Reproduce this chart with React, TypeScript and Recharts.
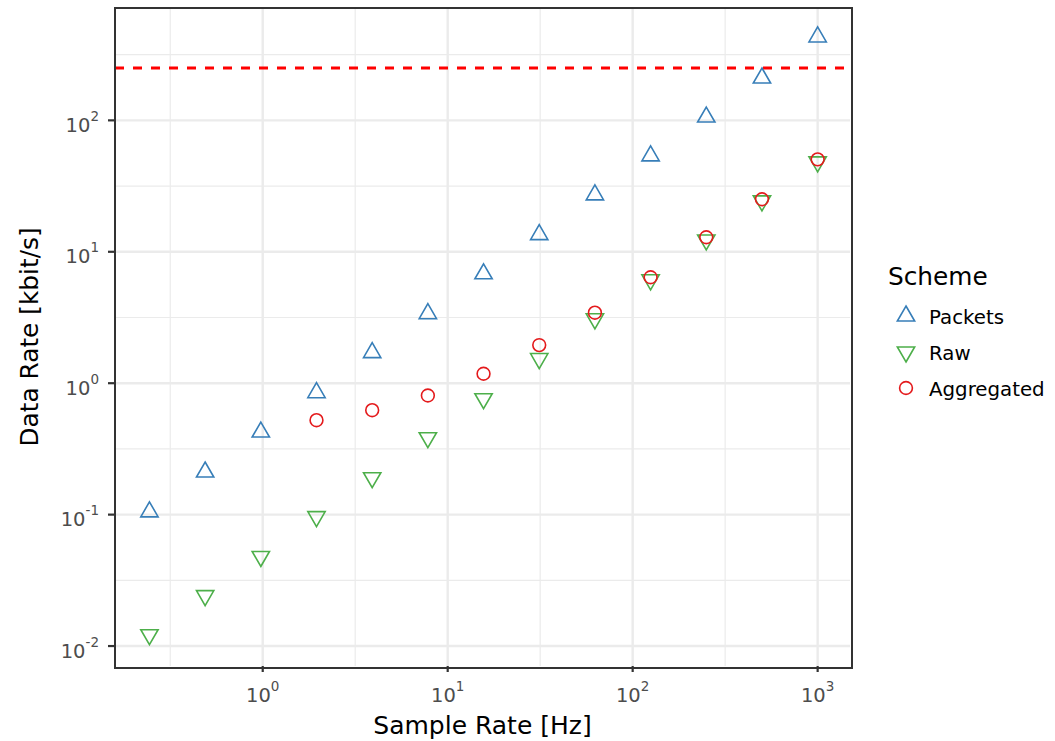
import React from 'react';
import { ScatterChart, Scatter, XAxis, YAxis, CartesianGrid, ReferenceLine } from 'recharts';

// ---- data ----
const sampleRates = [0.244140625, 0.48828125, 0.9765625, 1.953125, 3.90625, 7.8125, 15.625, 31.25, 62.5, 125, 250, 500, 1000];
const packetsRates = [0.105, 0.211, 0.425, 0.847, 1.71, 3.38, 6.8, 13.5, 27.1, 53.7, 106, 210, 431];
const rawRates = [0.0122, 0.0242, 0.048, 0.0966, 0.191, 0.385, 0.762, 1.54, 3.09, 6.12, 12.3, 24.4, 48.3];
const aggregatedSampleRates = [1.953125, 3.90625, 7.8125, 15.625, 31.25, 62.5, 125, 250, 500, 1000];
const aggregatedRates = [0.523, 0.623, 0.806, 1.18, 1.95, 3.44, 6.4, 12.9, 25.1, 50.5];
const limitRate = 250;

const xTicks = [1, 10, 100, 1000];
const yTicks = [0.01, 0.1, 1, 10, 100];
const xMinorGrid = [0.3162, 3.162, 31.62, 316.2];
const yMinorGrid = [0.03162, 0.3162, 3.162, 31.62, 316.2];
const xDomain = [0.159, 1496];
const yDomain = [0.00705, 716];

const seriesNames = ['Packets', 'Raw', 'Aggregated'];
const colors = { Packets: '#377EB8', Raw: '#4DAF4A', Aggregated: '#E41A1C' };

const packetsData = sampleRates.map((x, i) => ({ x, y: packetsRates[i] }));
const rawData = sampleRates.map((x, i) => ({ x, y: rawRates[i] }));
const aggData = aggregatedSampleRates.map((x, i) => ({ x, y: aggregatedRates[i] }));

const FONT = '"DejaVu Sans", Verdana, sans-serif';
const TRI_R = 10;
const CIRC_R = 6.4;
const SW = 1.6;

function triUp(cx: number, cy: number, color: string) {
  const h = (TRI_R * Math.sqrt(3)) / 2;
  const pts = `${cx},${cy - TRI_R} ${cx + h},${cy + TRI_R / 2} ${cx - h},${cy + TRI_R / 2}`;
  return <polygon points={pts} fill="none" stroke={color} strokeWidth={SW} strokeLinejoin="miter" />;
}
function triDown(cx: number, cy: number, color: string) {
  const h = (TRI_R * Math.sqrt(3)) / 2;
  const pts = `${cx},${cy + TRI_R} ${cx + h},${cy - TRI_R / 2} ${cx - h},${cy - TRI_R / 2}`;
  return <polygon points={pts} fill="none" stroke={color} strokeWidth={SW} strokeLinejoin="miter" />;
}
function circ(cx: number, cy: number, color: string) {
  return <circle cx={cx} cy={cy} r={CIRC_R} fill="none" stroke={color} strokeWidth={SW} />;
}

const expOf = (v: number) => Math.round(Math.log10(v));

const XTick = (props: any) => {
  const { x, y, payload } = props;
  const e = expOf(payload.value);
  return (
    <text x={x} y={y + 28} textAnchor="middle" fontFamily={FONT} fill="#4D4D4D" fontSize={19.5}>
      <tspan>10</tspan>
      <tspan fontSize={13.5} dy={-11}>{e}</tspan>
    </text>
  );
};

const YTick = (props: any) => {
  const { x, y, payload } = props;
  const e = expOf(payload.value);
  return (
    <text x={x - 7} y={y + 11.5} textAnchor="end" fontFamily={FONT} fill="#4D4D4D" fontSize={19.5}>
      <tspan>10</tspan>
      <tspan fontSize={13.5} dy={-11}>{e < 0 ? `-${-e}` : `${e}`}</tspan>
    </text>
  );
};

export default function App() {
  const W = 1055;
  const H = 741;
  const plotLeft = 115;
  const plotTop = 8;
  const plotRight = 850;
  const plotBottom = 666;
  return (
    <div style={{ position: 'absolute', left: 0, top: 0, width: W, height: H, background: '#fff' }}>
      <ScatterChart width={W} height={H} margin={{ top: plotTop, right: W - plotRight, bottom: 0, left: 0 }}>
        <CartesianGrid stroke="#EBEBEB" strokeWidth={1.2} horizontalValues={yMinorGrid} verticalValues={xMinorGrid} />
        <CartesianGrid stroke="#EBEBEB" strokeWidth={2.4} horizontalValues={yTicks} verticalValues={xTicks} />
        <XAxis
          type="number"
          dataKey="x"
          scale="log"
          domain={xDomain}
          allowDataOverflow
          ticks={xTicks}
          height={H - plotBottom}
          axisLine={false}
          tickLine={{ stroke: '#333333', strokeWidth: 2.2 }}
          tickSize={6}
          tick={<XTick />}
          interval={0}
        />
        <YAxis
          type="number"
          dataKey="y"
          scale="log"
          domain={yDomain}
          allowDataOverflow
          ticks={yTicks}
          width={plotLeft}
          axisLine={false}
          tickLine={{ stroke: '#333333', strokeWidth: 2.2 }}
          tickSize={7}
          tick={<YTick />}
          interval={0}
        />
        <ReferenceLine y={limitRate} stroke="#FF0000" strokeWidth={3} strokeDasharray="9 9" />
        <Scatter
          name="Packets"
          data={packetsData}
          isAnimationActive={false}
          shape={(p: any) => triUp(p.cx, p.cy, colors.Packets)}
        />
        <Scatter
          name="Raw"
          data={rawData}
          isAnimationActive={false}
          shape={(p: any) => triDown(p.cx, p.cy, colors.Raw)}
        />
        <Scatter
          name="Aggregated"
          data={aggData}
          isAnimationActive={false}
          shape={(p: any) => circ(p.cx, p.cy, colors.Aggregated)}
        />
      </ScatterChart>
      {/* panel border */}
      <div
        style={{
          position: 'absolute',
          left: plotLeft - 1.2,
          top: plotTop - 1.2,
          width: plotRight - plotLeft,
          height: plotBottom - plotTop,
          border: '2.3px solid #333333',
          pointerEvents: 'none',
        }}
      />
      {/* titles and legend */}
      <svg width={W} height={H} style={{ position: 'absolute', left: 0, top: 0, pointerEvents: 'none' }}>
        <text x={(plotLeft + plotRight) / 2} y={734} textAnchor="middle" fontFamily={FONT} fontSize={25} fill="#000">
          Sample Rate [Hz]
        </text>
        <text
          transform={`translate(38, ${(plotTop + plotBottom) / 2}) rotate(-90)`}
          textAnchor="middle"
          fontFamily={FONT}
          fontSize={24.8}
          fill="#000"
        >
          Data Rate [kbit/s]
        </text>
        <text x={888} y={285} fontFamily={FONT} fontSize={24.8} fill="#000">Scheme</text>
        {seriesNames.map((name, i) => {
          const cy = 316 + i * 36;
          const c = (colors as any)[name];
          return (
            <g key={name}>
              {i === 0 ? triUp(906, cy, c) : i === 1 ? triDown(906, cy, c) : circ(906, cy, c)}
              <text x={929} y={cy + 7.5} fontFamily={FONT} fontSize={19.8} fill="#000">{name}</text>
            </g>
          );
        })}
      </svg>
    </div>
  );
}
